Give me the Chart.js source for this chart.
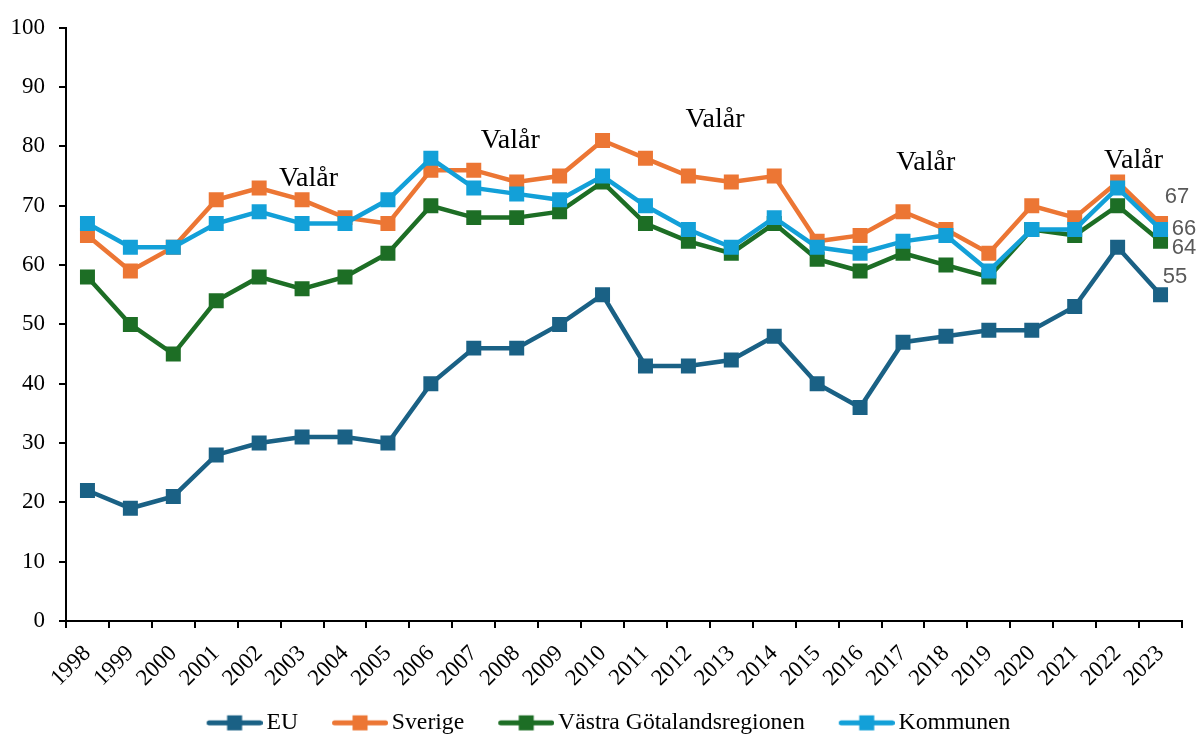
<!DOCTYPE html>
<html>
<head>
<meta charset="utf-8">
<script src="https://cdn.jsdelivr.net/npm/chart.js@4"></script>
<style>
html,body{margin:0;padding:0;background:#fff;}
#wrap{width:1198px;height:736px;position:relative;}
</style>
</head>
<body>
<div id="wrap"><canvas id="c" width="1198" height="736"></canvas></div>
<script>
const years = ['1998','1999','2000','2001','2002','2003','2004','2005','2006','2007','2008','2009','2010','2011','2012','2013','2014','2015','2016','2017','2018','2019','2020','2021','2022','2023'];
const euValues = [22,19,21,28,30,31,31,30,40,46,46,50,55,43,43,44,48,40,36,47,48,49,49,53,63,55];
const sverigeValues = [65,59,63,71,73,71,68,67,76,76,74,75,81,78,75,74,75,64,65,69,66,62,70,68,74,67];
const vgrValues = [58,50,45,54,58,56,58,62,70,68,68,69,74,67,64,62,67,61,59,62,60,58,66,65,70,64];
const kommunenValues = [67,63,63,67,69,67,67,71,78,73,72,71,75,70,66,63,68,63,62,64,65,59,66,66,73,66];
const seriesNames = ['EU','Sverige','Västra Götalandsregionen','Kommunen'];
const yTicks = [0,10,20,30,40,50,60,70,80,90,100];
// "Valår" annotations: position in data units (category index, value of baseline)
const valarText = 'Valår';
const valarIndex = [5.15, 9.85, 14.62, 19.53, 24.37];
const valarValue = [73.3, 79.7, 83.2, 76.0, 76.3];

const colors = ['#1A6185','#EC7634','#1D6E25','#13A0D8'];
const lastLabelOffsets = [[14.5,-18],[16.5,-27],[23.5,7],[23.5,-1]];

function legendSample(color){
  const c = document.createElement('canvas');
  c.width = 90; c.height = 20;
  const g = c.getContext('2d');
  g.strokeStyle = color; g.lineWidth = 5; g.lineCap = 'round';
  g.beginPath(); g.moveTo(36.5,10); g.lineTo(87.5,10); g.stroke();
  g.fillStyle = color;
  g.fillRect(62-7.5, 10-7.5, 15, 15);
  return c;
}
const samples = colors.map(legendSample);

const allValues = [euValues, sverigeValues, vgrValues, kommunenValues];
const orders = [3,2,1,0];
const datasets = allValues.map((vals,i)=>({
  label: seriesNames[i],
  data: vals,
  borderColor: colors[i],
  backgroundColor: colors[i],
  pointBackgroundColor: colors[i],
  pointBorderWidth: 0,
  pointStyle: 'rect',
  pointRadius: 10.6,
  pointHoverRadius: 10.6,
  borderWidth: 4.5,
  tension: 0,
  order: orders[i],
  fill: false
}));

const overlay = {
  id: 'overlay',
  afterDatasetsDraw(chart){
    const ctx = chart.ctx;
    const xs = chart.scales.x, ys = chart.scales.y;
    ctx.save();
    ctx.fillStyle = '#000';
    ctx.font = '28px "Liberation Serif"';
    ctx.textAlign = 'center';
    ctx.textBaseline = 'alphabetic';
    for (let i=0;i<valarIndex.length;i++){
      ctx.fillText(valarText, xs.getPixelForValue(valarIndex[i]), ys.getPixelForValue(valarValue[i]));
    }
    ctx.font = '22px "Liberation Sans"';
    ctx.fillStyle = '#595959';
    ctx.textBaseline = 'middle';
    chart.data.datasets.forEach((ds,i)=>{
      const n = ds.data.length-1;
      const meta = chart.getDatasetMeta(i);
      const pt = meta.data[n];
      const off = lastLabelOffsets[i];
      ctx.fillText(String(ds.data[n]), pt.x + off[0], pt.y + off[1]);
    });
    ctx.restore();
  }
};

new Chart(document.getElementById('c'), {
  type: 'line',
  data: { labels: years, datasets },
  options: {
    responsive: false,
    animation: false,
    events: [],
    layout: { padding: { left: 9, right: 16, top: 25, bottom: 0 } },
    scales: {
      x: {
        offset: true,
        afterFit(scale){ scale.height = 82; },
        grid: { display: true, offset: true, drawOnChartArea: false, drawTicks: true, tickLength: 7, color: '#000', lineWidth: 2 },
        border: { display: true, color: '#000', width: 2 },
        ticks: { color: '#000', font: { family: 'Liberation Serif', size: 23 }, minRotation: 45, maxRotation: 45, padding: 12, autoSkip: false }
      },
      y: {
        min: 0, max: 100,
        afterBuildTicks(scale){ scale.ticks = yTicks.map(v=>({value:v})); },
        afterFit(scale){ scale.width = 57; },
        grid: { display: true, drawOnChartArea: false, drawTicks: true, tickLength: 7, color: '#000', lineWidth: 2 },
        border: { display: true, color: '#000', width: 2 },
        ticks: { color: '#000', font: { family: 'Liberation Serif', size: 23 }, padding: 14, stepSize: 10 }
      }
    },
    plugins: {
      tooltip: { enabled: false },
      legend: {
        display: true,
        position: 'bottom',
        maxHeight: 33,
        labels: {
          usePointStyle: true,
          pointStyleWidth: 74,
          boxHeight: 20,
          padding: 8,
          color: '#000',
          font: { family: 'Liberation Serif', size: 23.7 },
          generateLabels(chart){
            return chart.data.datasets.map((ds,i)=>({
              text: ds.label,
              fillStyle: colors[i],
              strokeStyle: colors[i],
              lineWidth: 0,
              pointStyle: samples[i],
              hidden: false,
              datasetIndex: i,
              fontColor: '#000'
            }));
          }
        }
      }
    }
  },
  plugins: [overlay]
});
</script>
</body>
</html>
